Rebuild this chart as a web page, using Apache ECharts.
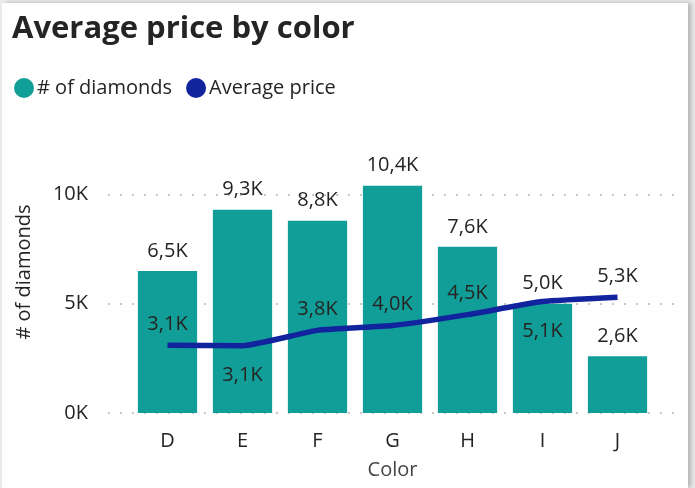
<!DOCTYPE html>
<html>
<head>
<meta charset="utf-8">
<title>Average price by color</title>
<script src="https://cdn.jsdelivr.net/npm/echarts@6/dist/echarts.min.js"></script>
<style>
  html, body { margin: 0; padding: 0; background: #ececec; }
  #card { position: absolute; left: 2px; top: 3px; width: 686px; height: 485px; background: #fff;
          box-shadow: 3px 0 5px rgba(0,0,0,0.25); }
  #main { width: 695px; height: 488px; position: absolute; left: 0; top: 0; }
</style>
</head>
<body>
<div id="card"></div>
<div id="main"></div>
<script>
// data
var colors = ['D', 'E', 'F', 'G', 'H', 'I', 'J'];
var diamondCounts = [6500, 9300, 8800, 10400, 7600, 5000, 2600];
var avgPrice = [3100, 3080, 3780, 4000, 4500, 5100, 5300];
var priceLabelPos = ['top', 'bottom', 'top', 'top', 'top', 'bottom', 'top'];

var FONT = '"Segoe UI", "Open Sans", sans-serif';
var yMax = 12900;

function fmtK(v) {
  return (v / 1000).toFixed(1).replace('.', ',') + 'K';
}

var chart = echarts.init(document.getElementById('main'));
chart.setOption({
  textStyle: { fontFamily: FONT },
  title: {
    text: 'Average price by color',
    left: 7, top: 9,
    textStyle: { fontFamily: FONT, fontSize: 31, fontWeight: 'bold', color: '#252423' }
  },
  legend: {
    left: 9, top: 73,
    icon: 'circle', itemWidth: 20, itemHeight: 20, itemGap: 14,
    textStyle: { fontFamily: FONT, fontSize: 20, color: '#252423', padding: [0, 0, 0, -2] },
    data: ['# of diamonds', 'Average price']
  },
  grid: [
    { left: 108, right: 19, top: 131, bottom: 75 },
    { left: 130, right: 40, top: 131, bottom: 75 }
  ],
  xAxis: [
    { type: 'category', gridIndex: 0, data: ['x'], show: false },
    {
      type: 'category', gridIndex: 1, data: colors,
      axisLine: { show: false }, axisTick: { show: false },
      axisLabel: { fontSize: 20, color: '#252423', margin: 18 },
      name: 'Color', nameLocation: 'middle', nameGap: 47,
      nameTextStyle: { fontSize: 20, color: '#444' }
    }
  ],
  yAxis: [
    {
      type: 'value', gridIndex: 0, min: 0, max: yMax, interval: 5000,
      axisLine: { show: false }, axisTick: { show: false },
      axisLabel: {
        fontSize: 20, color: '#252423', margin: 20, showMaxLabel: false,
        formatter: function (v) { return v % 5000 === 0 ? (v / 1000) + 'K' : ''; }
      },
      splitLine: { showMaxLine: false, lineStyle: { type: [2, 10], width: 2, color: '#c8c8c8' } },
      name: '# of diamonds', nameLocation: 'middle', nameGap: 74,
      nameTextStyle: { fontSize: 20, color: '#252423' }
    },
    {
      type: 'value', gridIndex: 1, min: 0, max: yMax, show: false
    }
  ],
  series: [
    {
      name: '# of diamonds', type: 'bar', xAxisIndex: 1, yAxisIndex: 1,
      data: diamondCounts, barCategoryGap: '21%',
      itemStyle: { color: '#119E98' },
      label: {
        show: true, position: 'top', distance: 10, fontSize: 20, color: '#252423',
        formatter: function (p) { return fmtK(p.value); }
      },
      z: 2
    },
    {
      name: 'Average price', type: 'line', xAxisIndex: 1, yAxisIndex: 1,
      data: avgPrice.map(function (v, i) {
        return { value: v, label: { position: priceLabelPos[i], distance: priceLabelPos[i] === 'top' ? 11 : 20 } };
      }),
      symbol: 'circle', symbolSize: 0.1, showSymbol: true, smooth: 0.15,
      lineStyle: { color: '#12239E', width: 5.5 },
      itemStyle: { color: '#12239E' },
      label: {
        show: true, fontSize: 20, color: '#252423',
        formatter: function (p) { return fmtK(p.value); }
      },
      z: 3
    }
  ]
});
</script>
</body>
</html>
